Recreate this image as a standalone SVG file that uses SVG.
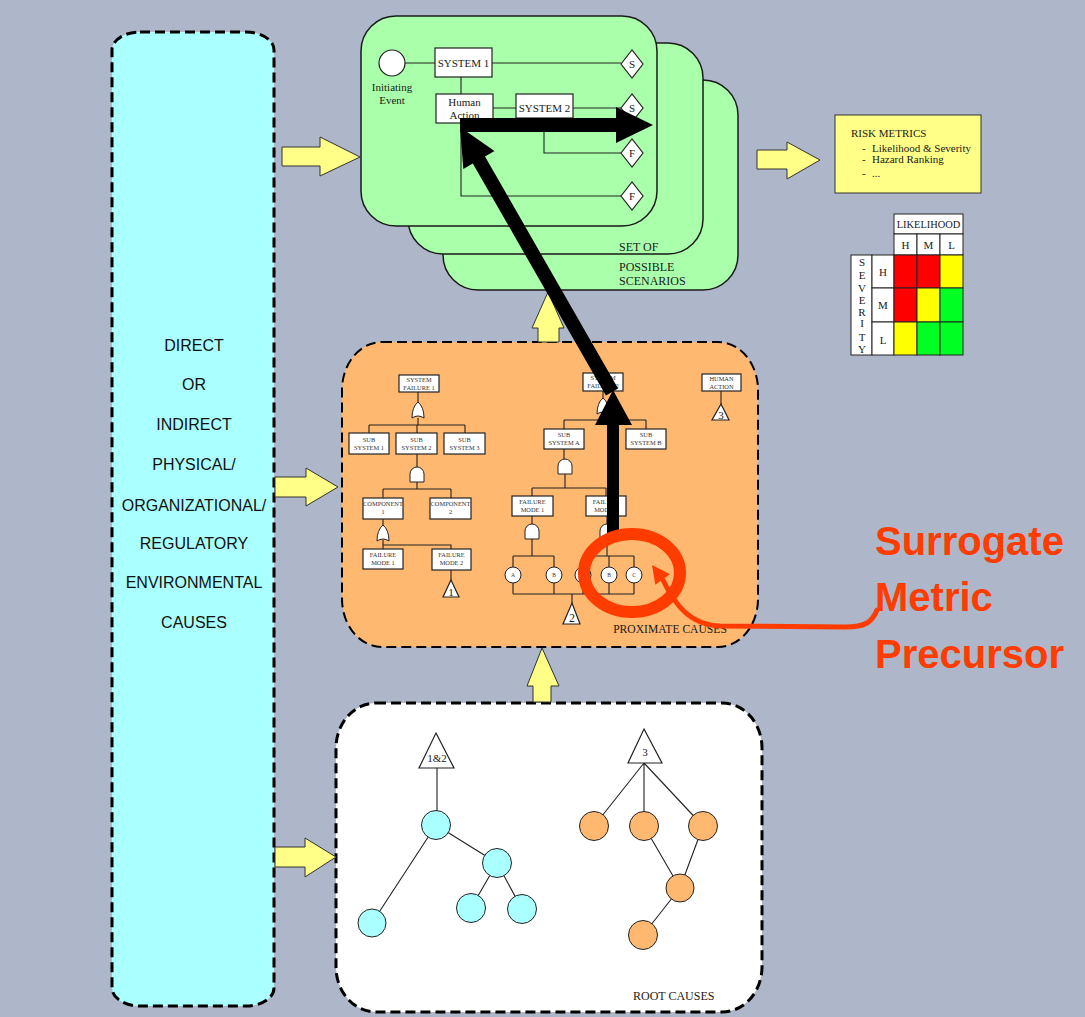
<svg xmlns="http://www.w3.org/2000/svg" width="1085" height="1017" viewBox="0 0 1085 1017">
  <style>
    .panel { stroke: #000; stroke-dasharray: 10 5; }
    .card { fill: #AAFFAA; stroke: #1a1a1a; stroke-width: 1.5; }
    .box { fill: #fff; stroke: #222; stroke-width: 1.2; }
    .ln { fill: none; stroke: #222; stroke-width: 1.1; }
    .gate { fill: #fff; stroke: #222; stroke-width: 1; }
    .big { fill: #000; }
    .yarrow { fill: #FFFF88; stroke: #333; stroke-width: 1; }
    .serif { font-family: "Liberation Serif", "Times New Roman", serif; fill: #1a1a1a; }
    .t11 { font-size: 11px; }
    .t12 { font-size: 12px; }
    .tiny { font-size: 6.4px; fill: #333; }
    .micro { font-size: 5.5px; fill: #333; }
    .sans { font-family: "Liberation Sans", Arial, sans-serif; fill: #111; font-size: 16px; }
    .red { font-family: "Liberation Sans", Arial, sans-serif; font-weight: bold; font-size: 40px; fill: #FF3C00; }
    .mid { text-anchor: middle; }
    .cyan { fill: #AAFFFF; stroke: #222; stroke-width: 1; }
    .orng { fill: #FFB870; stroke: #222; stroke-width: 1; }
  </style>
  <defs>
    <!-- fault tree gate symbols, origin at the gate's top centre -->
    <path id="orGate" class="gate" d="M -6 16 Q -6 5 0 0 Q 6 5 6 16 Q 0 12 -6 16 Z"/>
    <path id="andGate" class="gate" d="M -7 15 L -7 7 A 7 7 0 0 1 7 7 L 7 15 Z"/>
  </defs>

  <!-- backdrop -->
  <rect x="0" y="0" width="1085" height="1017" fill="#ADB7C9"/>

  <!-- left column of contributing causes -->
  <g id="causes-column">
    <rect class="panel" x="112" y="32" width="162" height="974" rx="28" ry="18" fill="#AAFFFF" stroke-width="3"/>
    <g class="sans mid">
      <text x="194" y="351">DIRECT</text>
      <text x="194" y="390">OR</text>
      <text x="194" y="430">INDIRECT</text>
      <text x="194" y="470">PHYSICAL/</text>
      <text x="194" y="511">ORGANIZATIONAL/</text>
      <text x="194" y="549">REGULATORY</text>
      <text x="194" y="588">ENVIRONMENTAL</text>
      <text x="194" y="628">CAUSES</text>
    </g>
  </g>

  <!-- stack of scenario cards -->
  <g id="scenarios">
    <rect class="card" x="443" y="80" width="295" height="210" rx="35" ry="35"/>
    <rect class="card" x="408" y="43" width="295" height="211" rx="35" ry="35"/>
    <rect class="card" x="361" y="16" width="296" height="210" rx="35" ry="35"/>

    <!-- event tree on the front card -->
    <g id="event-tree">
      <path class="ln" d="M 405 63 H 435 M 492 63 H 621 M 461 77 V 94 M 493 108 H 516 M 573 108 H 621 M 544 118 V 153 H 621 M 461 123 V 196 H 621"/>
      <circle cx="392" cy="63" r="13" fill="#fff" stroke="#222" stroke-width="1.2"/>
      <text class="serif t11 mid" x="392" y="91">Initiating</text>
      <text class="serif t11 mid" x="392" y="104">Event</text>
      <rect class="box" x="435" y="48" width="57" height="29"/>
      <text class="serif t11 mid" x="463.5" y="67">SYSTEM 1</text>
      <rect class="box" x="436" y="94" width="57" height="29"/>
      <text class="serif t11 mid" x="464.5" y="106">Human</text>
      <text class="serif t11 mid" x="464.5" y="119">Action</text>
      <rect class="box" x="516" y="94" width="57" height="24"/>
      <text class="serif t11 mid" x="544.5" y="112">SYSTEM 2</text>
      <g class="serif t11 mid">
        <polygon class="box" points="621,64 632,50 643,64 632,78"/>
        <text x="632" y="68">S</text>
        <polygon class="box" points="621,108 632,94 643,108 632,122"/>
        <text x="632" y="112">S</text>
        <polygon class="box" points="621,153 632,139 643,153 632,167"/>
        <text x="632" y="157">F</text>
        <polygon class="box" points="621,196 632,182 643,196 632,210"/>
        <text x="632" y="200">F</text>
      </g>
    </g>
    <text class="serif t12" x="619" y="251">SET OF</text>
    <text class="serif t12" x="619" y="271">POSSIBLE</text>
    <text class="serif t12" x="619" y="285">SCENARIOS</text>
  </g>

  <!-- risk metrics summary -->
  <g id="risk-metrics">
    <rect x="835" y="115" width="146" height="78" fill="#FFFF88" stroke="#333" stroke-width="1"/>
    <g class="serif t11">
      <text x="851" y="137">RISK METRICS</text>
      <text x="862" y="152">-</text>
      <text x="872" y="152">Likelihood &amp; Severity</text>
      <text x="862" y="163">-</text>
      <text x="872" y="163">Hazard Ranking</text>
      <text x="862" y="177">-</text>
      <text x="872" y="177">...</text>
    </g>
  </g>

  <!-- likelihood / severity matrix -->
  <g id="risk-matrix" stroke="#222" stroke-width="1">
    <rect x="894" y="214" width="69" height="20" fill="#fff"/>
    <rect x="894" y="234" width="23" height="21" fill="#fff"/>
    <rect x="917" y="234" width="23" height="21" fill="#fff"/>
    <rect x="940" y="234" width="23" height="21" fill="#fff"/>
    <rect x="851" y="255" width="21" height="100" fill="#fff"/>
    <rect x="872" y="255" width="22" height="33" fill="#fff"/>
    <rect x="872" y="288" width="22" height="34" fill="#fff"/>
    <rect x="872" y="322" width="22" height="33" fill="#fff"/>
    <rect x="894" y="255" width="23" height="33" fill="#FF0000"/>
    <rect x="917" y="255" width="23" height="33" fill="#FF0000"/>
    <rect x="940" y="255" width="23" height="33" fill="#FFFF00"/>
    <rect x="894" y="288" width="23" height="34" fill="#FF0000"/>
    <rect x="917" y="288" width="23" height="34" fill="#FFFF00"/>
    <rect x="940" y="288" width="23" height="34" fill="#00FF22"/>
    <rect x="894" y="322" width="23" height="33" fill="#FFFF00"/>
    <rect x="917" y="322" width="23" height="33" fill="#00FF22"/>
    <rect x="940" y="322" width="23" height="33" fill="#00FF22"/>
    <g class="serif t11 mid" stroke="none">
      <text x="928.5" y="228" font-size="10.4">LIKELIHOOD</text>
      <text x="905.5" y="249">H</text>
      <text x="928.5" y="249">M</text>
      <text x="951.5" y="249">L</text>
      <text x="883" y="276">H</text>
      <text x="883" y="309">M</text>
      <text x="883" y="344">L</text>
      <text x="862" y="266">S</text>
      <text x="862" y="279">E</text>
      <text x="862" y="292">V</text>
      <text x="862" y="304">E</text>
      <text x="862" y="316">R</text>
      <text x="862" y="327">I</text>
      <text x="862" y="341">T</text>
      <text x="862" y="353">Y</text>
    </g>
  </g>

  <!-- proximate causes: fault trees -->
  <g id="proximate-causes">
    <rect class="panel" x="342" y="342" width="416" height="305" rx="40" ry="48" fill="#FFB870" stroke-width="2"/>

    <!-- left fault tree -->
    <g id="fault-tree-1">
      <path class="ln" d="M 418 392 V 402 M 418 418 V 425 M 369 425 H 465 M 369 425 V 433 M 417 425 V 433 M 465 425 V 433 M 417 454 V 467 M 417 482 V 489 M 383 489 H 451 M 383 489 V 498 M 451 489 V 498 M 383 519 V 525 M 383 540 V 545 M 383 545 H 451 V 549 M 383 545 V 549 M 451 570 V 580"/>
      <rect class="box" x="399" y="375" width="40" height="17"/>
      <text class="serif tiny mid" x="419" y="382">SYSTEM</text>
      <text class="serif tiny mid" x="419" y="390">FAILURE 1</text>
      <use href="#orGate" x="418" y="402"/>
      <rect class="box" x="349" y="433" width="40" height="21"/>
      <text class="serif tiny mid" x="369" y="442">SUB</text>
      <text class="serif tiny mid" x="369" y="450">SYSTEM 1</text>
      <rect class="box" x="396" y="433" width="41" height="21"/>
      <text class="serif tiny mid" x="416.5" y="442">SUB</text>
      <text class="serif tiny mid" x="416.5" y="450">SYSTEM 2</text>
      <rect class="box" x="444" y="433" width="41" height="21"/>
      <text class="serif tiny mid" x="464.5" y="442">SUB</text>
      <text class="serif tiny mid" x="464.5" y="450">SYSTEM 3</text>
      <use href="#andGate" x="417" y="467"/>
      <rect class="box" x="363" y="498" width="40" height="21"/>
      <text class="serif tiny mid" x="383" y="506">COMPONENT</text>
      <text class="serif tiny mid" x="383" y="514">1</text>
      <rect class="box" x="430" y="498" width="41" height="21"/>
      <text class="serif tiny mid" x="450.5" y="506">COMPONENT</text>
      <text class="serif tiny mid" x="450.5" y="514">2</text>
      <use href="#orGate" x="383" y="525"/>
      <rect class="box" x="363" y="549" width="40" height="20"/>
      <text class="serif tiny mid" x="383" y="557">FAILURE</text>
      <text class="serif tiny mid" x="383" y="565">MODE 1</text>
      <rect class="box" x="432" y="549" width="39" height="21"/>
      <text class="serif tiny mid" x="451.5" y="557">FAILURE</text>
      <text class="serif tiny mid" x="451.5" y="565">MODE 2</text>
      <polygon class="box" points="451,580 459,597 443,597"/>
      <text class="serif t11 mid" x="451" y="596">1</text>
    </g>

    <!-- right fault tree -->
    <g id="fault-tree-2">
      <path class="ln" d="M 603 391 V 398 M 603 414 V 420 M 564 420 H 646 M 564 420 V 429 M 646 420 V 429 M 564 449 V 459 M 565 474 V 488 M 532 488 H 606 M 532 488 V 496 M 606 488 V 496 M 532 516 V 524 M 532 538 V 556 M 513 556 H 554 M 513 556 V 567 M 554 556 V 567 M 607 516 V 524 M 607 538 V 556 M 583 556 H 634 M 583 556 V 567 M 609 556 V 567 M 634 556 V 567 M 513 583 V 594 M 554 583 V 594 M 583 583 V 594 M 609 583 V 594 M 634 583 V 594 M 513 594 H 634 M 572 594 V 603"/>
      <rect class="box" x="583" y="373" width="40" height="18"/>
      <text class="serif tiny mid" x="603" y="380">SYSTEM</text>
      <text class="serif tiny mid" x="603" y="388">FAILURE 2</text>
      <use href="#orGate" x="603" y="398"/>
      <rect class="box" x="544" y="429" width="40" height="20"/>
      <text class="serif tiny mid" x="564" y="437">SUB</text>
      <text class="serif tiny mid" x="564" y="445">SYSTEM A</text>
      <rect class="box" x="626" y="429" width="40" height="20"/>
      <text class="serif tiny mid" x="646" y="437">SUB</text>
      <text class="serif tiny mid" x="646" y="445">SYSTEM B</text>
      <use href="#andGate" x="565" y="459"/>
      <rect class="box" x="512" y="496" width="41" height="20"/>
      <text class="serif tiny mid" x="532.5" y="504">FAILURE</text>
      <text class="serif tiny mid" x="532.5" y="512">MODE 1</text>
      <rect class="box" x="586" y="496" width="40" height="20"/>
      <text class="serif tiny mid" x="606" y="504">FAILURE</text>
      <text class="serif tiny mid" x="606" y="512">MODE 2</text>
      <use href="#andGate" x="532" y="524"/>
      <use href="#andGate" x="607" y="524"/>
      <g stroke="#222" stroke-width="1" fill="#fff">
        <circle cx="513" cy="575" r="8"/>
        <circle cx="554" cy="575" r="8"/>
        <circle cx="583" cy="575" r="8"/>
        <circle cx="609" cy="575" r="8"/>
        <circle cx="634" cy="575" r="8"/>
      </g>
      <text class="serif micro mid" x="513" y="577">A</text>
      <text class="serif micro mid" x="554" y="577">B</text>
      <text class="serif micro mid" x="609" y="577">B</text>
      <text class="serif micro mid" x="634" y="577">C</text>
      <polygon class="box" points="572,603 580,624 563,624"/>
      <text class="serif t12 mid" x="572" y="622">2</text>
    </g>

    <!-- human action fault tree stub -->
    <g id="human-action">
      <path class="ln" d="M 721 391 V 404"/>
      <rect class="box" x="702" y="374" width="39" height="17"/>
      <text class="serif tiny mid" x="721.5" y="381">HUMAN</text>
      <text class="serif tiny mid" x="721.5" y="389">ACTION</text>
      <polygon class="box" points="721,404 729,420 712,420"/>
      <text class="serif t11 mid" x="721" y="419">3</text>
    </g>

    <text class="serif mid" x="670" y="633" font-size="11.6">PROXIMATE CAUSES</text>
  </g>

  <!-- root causes -->
  <g id="root-causes">
    <rect class="panel" x="336" y="703" width="426" height="309" rx="40" ry="45" fill="#fff" stroke-width="3"/>
    <path class="ln" d="M 437 768 V 811 M 436 825 L 497 863 M 436 825 L 372 923 M 497 863 L 471 908 M 497 863 L 522 909 M 644 763 L 594 826 M 644 763 V 826 M 644 763 L 703 826 M 644 826 L 680 888 M 703 826 L 680 888 M 680 888 L 643 935"/>
    <polygon class="box" points="436,733 454,768 419,768"/>
    <text class="serif t11 mid" x="437" y="762">1&amp;2</text>
    <polygon class="box" points="644,729 662,763 628,763"/>
    <text class="serif t11 mid" x="645" y="756">3</text>
    <g class="cyan">
      <circle cx="436" cy="825" r="14.5"/>
      <circle cx="497" cy="863" r="14.5"/>
      <circle cx="372" cy="923" r="14"/>
      <circle cx="471" cy="908" r="14.5"/>
      <circle cx="522" cy="909" r="14.5"/>
    </g>
    <g class="orng">
      <circle cx="594" cy="826" r="14.5"/>
      <circle cx="644" cy="826" r="14.5"/>
      <circle cx="703" cy="826" r="14.5"/>
      <circle cx="680" cy="888" r="14"/>
      <circle cx="643" cy="935" r="14.5"/>
    </g>
    <text class="serif t12" x="633" y="1000">ROOT CAUSES</text>
  </g>

  <!-- connectors -->
  <g id="connectors">
    <!-- block arrows between stages -->
    <polygon class="yarrow" points="282,147 320,147 320,137 360,157 320,176 320,166 282,166"/>
    <polygon class="yarrow" points="275,477 306,477 306,468 338,487 306,506 306,497 275,497"/>
    <polygon class="yarrow" points="275,847 305,847 305,838 336,857 305,877 305,867 275,867"/>
    <polygon class="yarrow" points="757,150 787,150 787,142 820,160 787,179 787,169 757,169"/>
    <polygon class="yarrow" points="538,342 538,328 532,328 548,292 564,328 559,328 559,342"/>
    <polygon class="yarrow" points="533,702 533,686 527,686 542,648 559,686 551,686 551,702"/>

    <!-- heavy propagation path -->
    <polygon class="big" points="607,533 607,425 595,425 613,390 632,425 619,425 619,533"/>
    <polygon class="big" points="618.1,388.5 485,156.5 494.5,151 460,127 463.3,169 472.8,163.5 605.9,395.5"/>
    <polygon class="big" points="460,118 616,118 616,107 653,125 616,143 616,132 460,132"/>
  </g>

  <!-- surrogate metric callout -->
  <g id="surrogate-callout">
    <ellipse cx="632" cy="573" rx="48" ry="39" fill="none" stroke="#FF3C00" stroke-width="12"/>
    <path d="M 663 580 C 675 605, 690 625, 720 626 L 845 627 C 866 627, 872 622, 877 610" fill="none" stroke="#FF3C00" stroke-width="5" stroke-linecap="round"/>
    <polygon points="652,565 669.9,574.2 655.3,584.8" fill="#FF3C00"/>
    <text class="red" x="875" y="555">Surrogate</text>
    <text class="red" x="875" y="611">Metric</text>
    <text class="red" x="875" y="668">Precursor</text>
  </g>
</svg>
